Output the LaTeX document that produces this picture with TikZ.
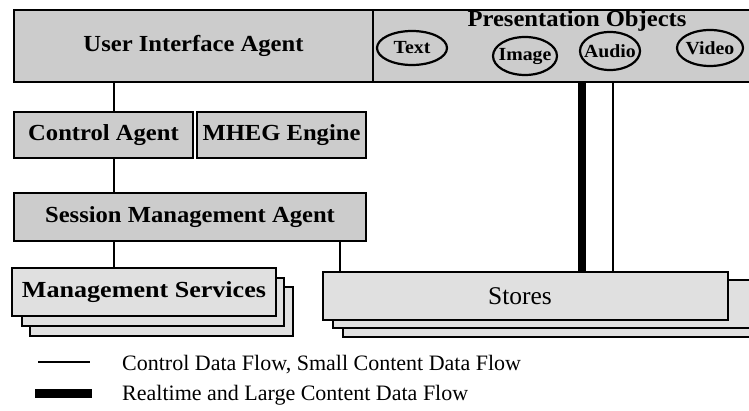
\documentclass[tikz,border=0pt]{standalone}
\usepackage{fontspec}
\setmainfont{Liberation Serif}
\newfontfamily\wideserif{Liberation Serif}[FakeStretch=1.07]
\usetikzlibrary{shapes.geometric}
\definecolor{stipA}{gray}{0.80}
\definecolor{stipB}{gray}{0.88}
\tikzset{
  box/.style={draw=black, line width=2pt, fill=stipA, inner sep=0pt, outer sep=0pt,
              font=\wideserif\fontsize{23}{26}\selectfont\bfseries},
  lightbox/.style={box, fill=stipB},
  backbox/.style={draw=black, line width=2pt, fill=stipB, inner sep=0pt, outer sep=0pt},
  medium/.style={draw=black, line width=2.2pt, ellipse, inner xsep=-14pt, inner ysep=0pt,
                 font=\wideserif\fontsize{18.5}{20}\selectfont\bfseries},
  conn/.style={line width=2pt},
  bigflow/.style={line width=8pt},
  smallflow/.style={line width=1.6pt},
  legtext/.style={anchor=base west, inner sep=0pt, font=\fontsize{22}{24}\selectfont}
}
\begin{document}
\begin{tikzpicture}[x=1pt,y=-1pt]
\useasboundingbox (0,0) rectangle (749,411);
\clip (0,0) rectangle (749,411);
% top row
\node[box, minimum width=359pt, minimum height=72pt] (uia) at (193.5,46) {User Interface Agent};
\node[box, minimum width=387pt, minimum height=72pt] (po) at (566.5,46) {};
\node[inner sep=0pt, font=\wideserif\fontsize{23}{26}\selectfont\bfseries] (potitle) at (577,21) {Presentation Objects};
\node[medium, minimum width=70pt, minimum height=34pt] (text) at (412,48) {Text};
\node[medium, minimum width=64pt, minimum height=38pt] (image) at (525,56) {Image};
\node[medium, minimum width=60pt, minimum height=38pt] (audio) at (610,51) {Audio};
\node[medium, minimum width=66pt, minimum height=36pt] (video) at (710,48) {Video};
% middle
\node[box, minimum width=179pt, minimum height=46pt] (ca) at (103.5,135) {Control Agent};
\node[box, minimum width=169pt, minimum height=46pt] (mheg) at (281.5,135) {MHEG Engine};
\node[box, minimum width=352pt, minimum height=48pt] (sma) at (190,217) {Session Management Agent};
% management services stack
\node[backbox, minimum width=263pt, minimum height=49pt] (ms3) at (161.5,311.5) {};
\node[backbox, minimum width=262pt, minimum height=48pt] (ms2) at (153,302) {};
\node[lightbox, minimum width=264pt, minimum height=48pt] (ms) at (144,292) {\scalebox{1.06}[1]{Management Services}};
% stores stack
\node[backbox, minimum width=437pt, minimum height=49pt] (st3) at (561.5,312.5) {};
\node[backbox, minimum width=437pt, minimum height=48pt] (st2) at (551.5,304) {};
\node[lightbox, minimum width=405pt, minimum height=48pt, font=\fontsize{25.5}{28}\selectfont] (st) at (525.5,296) {Stores\hspace*{11pt}};
% connector x positions
\coordinate (cx1) at (114,0);
\coordinate (cx2) at (340,0);
\coordinate (cx3) at (582,0);
\coordinate (cx4) at (613,0);
\draw[conn] (uia.south -| cx1) -- (ca.north -| cx1);
\draw[conn] (ca.south -| cx1) -- (sma.north -| cx1);
\draw[conn] (sma.south -| cx1) -- (ms.north -| cx1);
\draw[conn] (sma.south -| cx2) -- (st.north -| cx2);
\draw[bigflow] (po.south -| cx3) -- (st.north -| cx3);
\draw[smallflow] (po.south -| cx4) -- (st.north -| cx4);
% legend
\coordinate (l1a) at (38,362);
\coordinate (l1b) at (90,362);
\coordinate (l2a) at (35,393);
\coordinate (l2b) at (92,393);
\draw[line width=2.5pt] (l1a) -- (l1b);
\draw[line width=9pt] (l2a) -- (l2b);
\node[legtext] (leg1) at (122,370) {Control Data Flow, Small Content Data Flow};
\node[legtext] (leg2) at (122,400) {Realtime and Large Content Data Flow};
\end{tikzpicture}
\end{document}
